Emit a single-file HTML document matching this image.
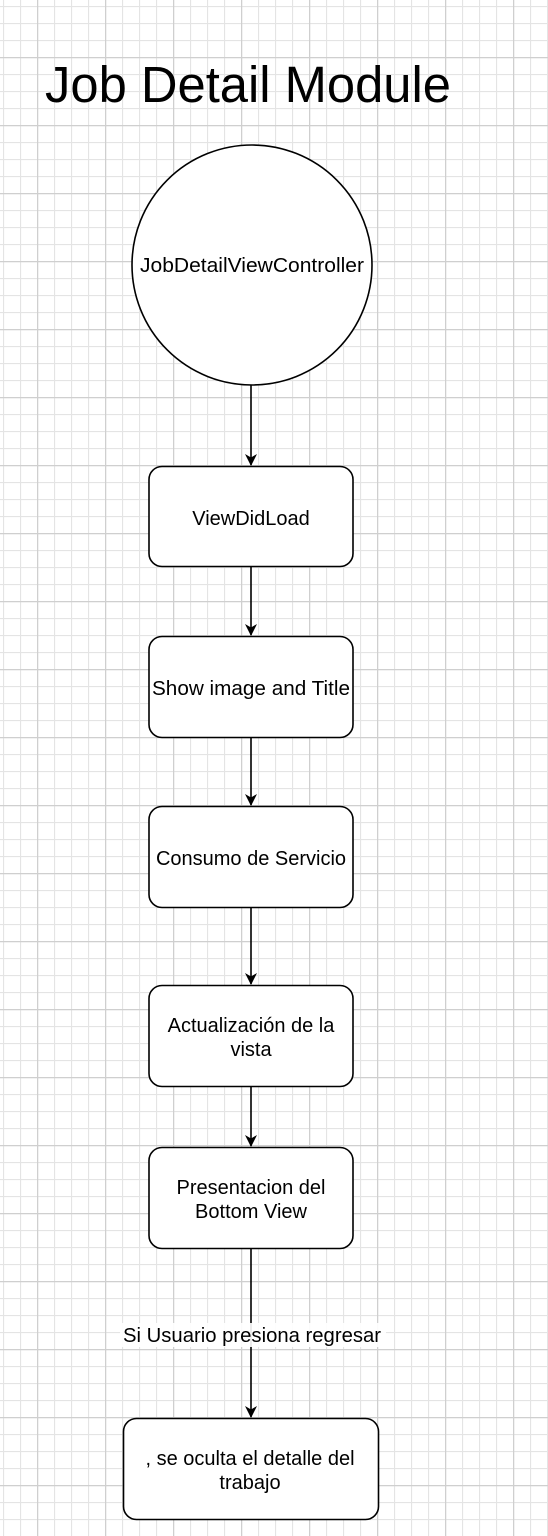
<!DOCTYPE html>
<html><head><meta charset="utf-8"><style>
html,body{margin:0;padding:0;background:#fff;}
svg{display:block;font-family:"Liberation Sans",Arial,sans-serif;}
</style></head><body>
<svg width="548" height="1536" viewBox="0 0 548 1536" xmlns="http://www.w3.org/2000/svg">
<defs>
<pattern id="minor" x="3" y="6" width="17" height="17" patternUnits="userSpaceOnUse">
<path d="M0 0.5H17M0.5 0V17" stroke="#e4e4e4" stroke-width="1.2" fill="none"/>
</pattern>
<pattern id="major" x="37" y="57" width="68" height="68" patternUnits="userSpaceOnUse">
<path d="M0 0.5H68M0.5 0V68" stroke="#cfcfcf" stroke-width="1.5" fill="none"/>
</pattern>
<marker id="ar" viewBox="0 0 12 12" refX="11" refY="6" markerWidth="12" markerHeight="12" markerUnits="userSpaceOnUse" orient="auto">
<path d="M0 0L12 6L0 12L3.5 6Z" fill="#000"/>
</marker>
</defs>
<rect width="548" height="1536" fill="#fff"/>
<rect width="548" height="1536" fill="url(#minor)"/>
<rect width="548" height="1536" fill="url(#major)"/>

<text x="45" y="102" font-size="51" textLength="406" lengthAdjust="spacingAndGlyphs">Job Detail Module</text>

<g stroke="#000" stroke-width="1.6" fill="#fff">
<circle cx="252" cy="265" r="120"/>
<rect x="149" y="466.5" width="204" height="100" rx="13"/>
<rect x="149" y="636.5" width="204" height="101" rx="13"/>
<rect x="149" y="806.5" width="204" height="101" rx="13"/>
<rect x="149" y="985.5" width="204" height="101" rx="13"/>
<rect x="149" y="1147.5" width="204" height="101" rx="13"/>
<rect x="123.5" y="1418.5" width="255" height="101" rx="13"/>
</g>

<g stroke="#000" stroke-width="1.6" marker-end="url(#ar)">
<line x1="251" y1="385" x2="251" y2="465"/>
<line x1="251" y1="567" x2="251" y2="635"/>
<line x1="251" y1="738" x2="251" y2="805"/>
<line x1="251" y1="908" x2="251" y2="984"/>
<line x1="251" y1="1087" x2="251" y2="1146"/>
<line x1="251" y1="1249" x2="251" y2="1417"/>
</g>

<rect x="120" y="1323" width="266" height="24" fill="#fff" opacity="0.9"/>

<g font-size="20" text-anchor="middle" fill="#000">
<text x="252" y="272" textLength="224" lengthAdjust="spacingAndGlyphs">JobDetailViewController</text>
<text x="251" y="525">ViewDidLoad</text>
<text x="251" y="695" textLength="198" lengthAdjust="spacingAndGlyphs">Show image and Title</text>
<text x="251" y="865">Consumo de Servicio</text>
<text x="251" y="1032">Actualización de la</text>
<text x="251" y="1056">vista</text>
<text x="251" y="1194">Presentacion del</text>
<text x="251" y="1218">Bottom View</text>
<text x="252" y="1342" textLength="258" lengthAdjust="spacingAndGlyphs">Si Usuario presiona regresar</text>
<text x="250" y="1465">, se oculta el detalle del</text>
<text x="250" y="1489">trabajo</text>
</g>
</svg>
</body></html>
